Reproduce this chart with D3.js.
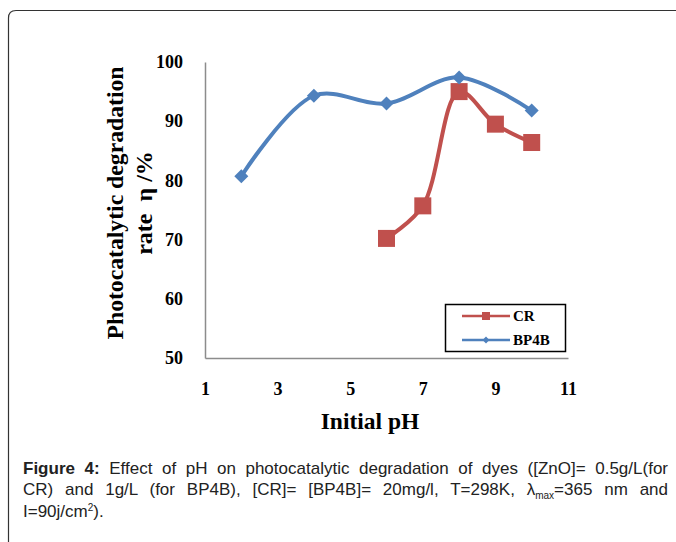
<!DOCTYPE html>
<html><head><meta charset="utf-8">
<script src="https://cdn.jsdelivr.net/npm/d3@7"></script>
<style>
html,body{margin:0;padding:0;background:#fff;}
svg{display:block;}
</style></head>
<body>
<svg id="c" width="676" height="542"></svg>
<script>
const crPH = [6, 7, 8, 9, 10];
const crValues = [70.2, 75.7, 95.0, 89.5, 86.4];
const bpPH = [2, 4, 6, 8, 10];
const bpValues = [80.7, 94.3, 93.0, 97.4, 91.8];
const xTicks = [1, 3, 5, 7, 9, 11];
const yTicks = [50, 60, 70, 80, 90, 100];
const seriesNames = ["CR", "BP4B"];

const svg = d3.select("#c");
const serif = "'Liberation Serif','Times New Roman',serif";
const capFont = "'Liberation Sans',Arial,sans-serif";

// outer frame
svg.append("path")
  .attr("d", "M8.5,542 L8.5,18 Q8.5,10.5 16,10.5 L676,10.5")
  .attr("fill", "none").attr("stroke", "#333").attr("stroke-width", 1.2);

const x = d3.scaleLinear().domain([1, 11]).range([205, 568]);
const y = d3.scaleLinear().domain([50, 100]).range([358, 62]);

// axes
const yAxis = d3.axisLeft(y).tickValues(yTicks).tickSize(0).tickPadding(22);
const gy = svg.append("g").attr("transform", "translate(205,0)").call(yAxis);
gy.select(".domain").attr("stroke", "#8c8c8c").attr("stroke-width", 1.5);
gy.selectAll("text").attr("font-family", serif).attr("font-weight", "bold")
  .attr("font-size", 18).attr("fill", "#000");

const xAxis = d3.axisBottom(x).tickValues(xTicks).tickSize(0).tickPadding(24);
const gx = svg.append("g").attr("transform", "translate(0,358)").call(xAxis);
gx.select(".domain").attr("stroke", "#8c8c8c").attr("stroke-width", 1.5);
gx.selectAll("text").attr("font-family", serif).attr("font-weight", "bold")
  .attr("font-size", 18).attr("fill", "#000");

// axis titles
svg.append("text").attr("x", 370).attr("y", 429).attr("text-anchor", "middle")
  .attr("font-family", serif).attr("font-weight", "bold").attr("font-size", 23.5)
  .text("Initial pH");
const yt = svg.append("text").attr("transform", "translate(0,203) rotate(-90)")
  .attr("text-anchor", "middle").attr("font-family", serif).attr("font-weight", "bold").attr("font-size", 24);
yt.append("tspan").attr("x", 0).attr("y", 123).attr("textLength", 273).attr("lengthAdjust", "spacingAndGlyphs").text("Photocatalytic degradation");
yt.append("tspan").attr("x", 0).attr("y", 152).attr("xml:space", "preserve").text("rate\u00a0\u00a0η /%");

const line = d3.line().x(d => x(d[0])).y(d => y(d[1])).curve(d3.curveCatmullRom.alpha(0.5));
const red = "#C0504D", blue = "#4F81BD";

const crData = crPH.map((p, i) => [p, crValues[i]]);
const bpData = bpPH.map((p, i) => [p, bpValues[i]]);

svg.append("path").datum(crData).attr("d", line).attr("fill", "none")
  .attr("stroke", red).attr("stroke-width", 4);
svg.selectAll(".sq").data(crData).enter().append("rect")
  .attr("x", d => x(d[0]) - 8.5).attr("y", d => y(d[1]) - 8.5)
  .attr("width", 17).attr("height", 17).attr("fill", red);

svg.append("path").datum(bpData).attr("d", line).attr("fill", "none")
  .attr("stroke", blue).attr("stroke-width", 4);
const diamond = d3.symbol().type(d3.symbolDiamond2).size(125);
svg.selectAll(".dm").data(bpData).enter().append("path")
  .attr("d", diamond).attr("transform", d => `translate(${x(d[0])},${y(d[1])})`)
  .attr("fill", blue);

// legend
const lg = svg.append("g");
lg.append("rect").attr("x", 445.5).attr("y", 304.5).attr("width", 120).attr("height", 47)
  .attr("fill", "#fff").attr("stroke", "#000").attr("stroke-width", 1.5);
const lgItems = [{name: seriesNames[0], color: red, y: 316, m: "sq"}, {name: seriesNames[1], color: blue, y: 340, m: "dm"}];
lgItems.forEach(it => {
  lg.append("line").attr("x1", 462).attr("x2", 510).attr("y1", it.y).attr("y2", it.y)
    .attr("stroke", it.color).attr("stroke-width", 2.5);
  if (it.m === "sq") lg.append("rect").attr("x", 482).attr("y", it.y - 4).attr("width", 8).attr("height", 8).attr("fill", it.color);
  else lg.append("path").attr("d", d3.symbol().type(d3.symbolDiamond2).size(30)).attr("transform", `translate(486,${it.y})`).attr("fill", it.color);
  lg.append("text").attr("x", 513).attr("y", it.y + 5).attr("font-family", serif).attr("font-weight", "bold")
    .attr("font-size", 15).text(it.name);
});

// caption
const capX = 23, capW = 645;
const cap = svg.append("g").attr("font-family", capFont).attr("font-size", 17).attr("fill", "#222");
const l1 = cap.append("text").attr("x", capX).attr("y", 474);
l1.append("tspan").attr("font-weight", "bold").text("Figure 4:");
l1.append("tspan").text(" Effect of pH on photocatalytic degradation of dyes ([ZnO]= 0.5g/L(for");
const l2 = cap.append("text").attr("x", capX).attr("y", 495);
l2.append("tspan").text("CR) and 1g/L (for BP4B), [CR]= [BP4B]= 20mg/l, T=298K, λ");
l2.append("tspan").attr("font-size", 10).attr("dy", 4).text("max");
l2.append("tspan").attr("dy", -4).text("=365 nm and");
const l3 = cap.append("text").attr("x", capX).attr("y", 517);
l3.append("tspan").text("I=90j/cm");
l3.append("tspan").attr("font-size", 10).attr("dy", -6).text("2");
l3.append("tspan").attr("dy", 6).text(").");

// justify lines 1 and 2
[l1, l2].forEach(t => {
  const w = t.node().getComputedTextLength();
  const spaces = (t.text().match(/ /g) || []).length;
  if (spaces > 0 && w < capW) t.attr("word-spacing", (capW - w) / spaces);
  else if (w > capW) t.attr("textLength", capW).attr("lengthAdjust", "spacingAndGlyphs");
});
</script>
</body></html>
